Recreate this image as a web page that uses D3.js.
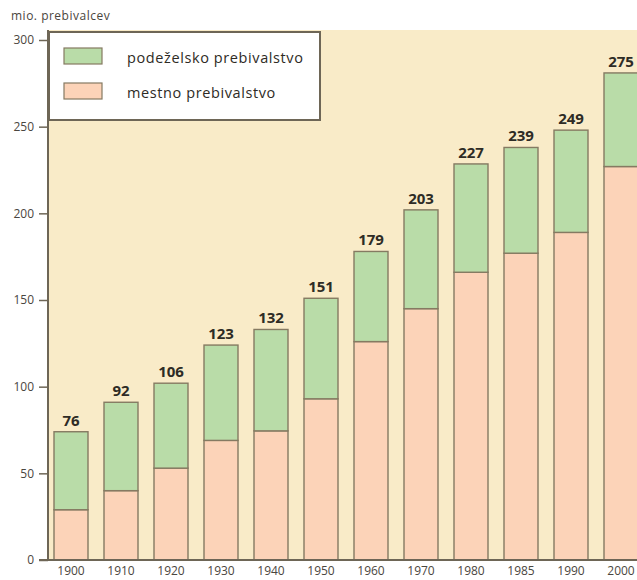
<!DOCTYPE html>
<html>
<head>
<meta charset="utf-8">
<script src="https://cdn.jsdelivr.net/npm/d3@7"></script>
<style>
  html, body { margin: 0; padding: 0; background: #fff; }
  svg { display: block; }
</style>
</head>
<body>
<svg id="chart" width="637" height="580"></svg>
<script>
// ---- data ----
const years = ["1900","1910","1920","1930","1940","1950","1960","1970","1980","1985","1990","2000"];
const urban = [29, 40, 53, 69, 74.5, 93, 126, 145, 166, 177, 189, 227];       // mestno
const totalHeight = [74, 91, 102, 124, 133, 151, 178, 202, 228.5, 238, 248, 281]; // bar tops as drawn
const rural = totalHeight.map((t, i) => t - urban[i]);                          // podeželsko
const totalLabels = ["76","92","106","123","132","151","179","203","227","239","249","275"];
const yTicks = [0, 50, 100, 150, 200, 250, 300];
const legendItems = ["podeželsko prebivalstvo", "mestno prebivalstvo"];
const axisTitle = "mio. prebivalcev";

// ---- styles ----
const C = {
  bg: "#f9ebc8",
  green: "#b9dca8",
  peach: "#fcd3b8",
  stroke: "#857a62",
  axis: "#6e6656",
  text: "#2e2b25",
  tick: "#4a4640"
};
const font = "'Open Sans', 'Noto Sans', sans-serif";

const svg = d3.select("#chart");
const x = d3.scaleBand().domain(years).range([46, 646]).paddingInner(0.32).paddingOuter(0.16);
const y = d3.scaleLinear().domain([0, 300]).range([560, 40]);

// plot background
svg.append("rect").attr("x", 48).attr("y", 30).attr("width", 637 - 48).attr("height", 530).attr("fill", C.bg);

// bars
const g = svg.append("g");
years.forEach((yr, i) => {
  g.append("rect")
    .attr("x", x(yr)).attr("width", x.bandwidth())
    .attr("y", y(urban[i])).attr("height", y(0) - y(urban[i]))
    .attr("fill", C.peach).attr("stroke", C.stroke).attr("stroke-width", 1.4);
  g.append("rect")
    .attr("x", x(yr)).attr("width", x.bandwidth())
    .attr("y", y(urban[i] + rural[i])).attr("height", y(urban[i]) - y(urban[i] + rural[i]))
    .attr("fill", C.green).attr("stroke", C.stroke).attr("stroke-width", 1.4);
  g.append("text")
    .attr("x", x(yr) + x.bandwidth() / 2).attr("y", y(urban[i] + rural[i]) - 6)
    .attr("text-anchor", "middle").attr("font-family", font).attr("font-weight", "bold")
    .attr("font-size", 15).attr("fill", C.text).text(totalLabels[i]);
});

// y axis
const yAxis = svg.append("g").attr("transform", "translate(48,0)")
  .call(d3.axisLeft(y).tickValues(yTicks).tickSize(9).tickPadding(5));
yAxis.select(".domain").attr("stroke", C.axis).attr("stroke-width", 2).attr("d", "M0,30V560");
yAxis.selectAll(".tick line").attr("stroke", C.axis).attr("stroke-width", 1.5);
yAxis.selectAll(".tick text").attr("font-family", font).attr("font-size", 12).attr("fill", C.tick);

// x axis
const xAxis = svg.append("g").attr("transform", "translate(0,560)")
  .call(d3.axisBottom(x).tickSize(0).tickPadding(6));
xAxis.select(".domain").attr("stroke", C.axis).attr("stroke-width", 2).attr("d", "M39,0H637");
xAxis.selectAll(".tick text").attr("font-family", font).attr("font-size", 12).attr("fill", C.tick);

// axis title
svg.append("text").attr("x", 11).attr("y", 20).attr("font-family", font)
  .attr("font-size", 12).attr("letter-spacing", 0.5).attr("fill", C.tick).text(axisTitle);

// legend
const lg = svg.append("g");
lg.append("rect").attr("x", 49).attr("y", 32).attr("width", 271).attr("height", 88)
  .attr("fill", "#fff").attr("stroke", C.axis).attr("stroke-width", 2);
const legendColors = [C.green, C.peach];
legendItems.forEach((t, i) => {
  lg.append("rect").attr("x", 64).attr("y", 48 + i * 35).attr("width", 38).attr("height", 16)
    .attr("fill", legendColors[i]).attr("stroke", C.stroke).attr("stroke-width", 1.2);
  lg.append("text").attr("x", 127).attr("y", 63 + i * 35).attr("font-family", font)
    .attr("font-size", 14.5).attr("letter-spacing", 0.6).attr("fill", C.text).text(t);
});
</script>
</body>
</html>
